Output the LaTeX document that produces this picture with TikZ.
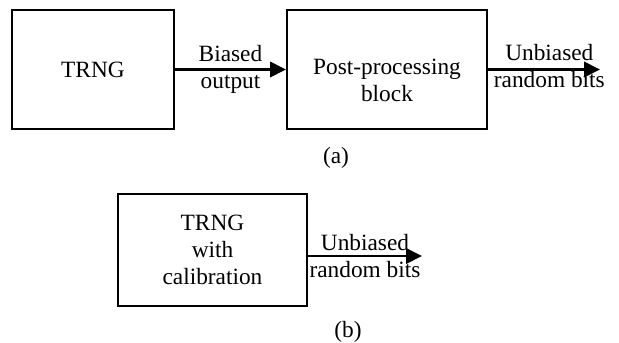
\documentclass[tikz,border=0pt]{standalone}
\usepackage{fontspec}
\setmainfont{Liberation Serif}
\usepackage{tikz}
\usetikzlibrary{arrows,arrows.meta,positioning}

\begin{document}
\begin{tikzpicture}[x=0.75pt,y=-0.75pt,
	every node/.style={font=\fontsize{17.5pt}{20.5pt}\selectfont},
	block/.style={draw,line width=1.5pt,align=center,inner sep=0pt},
	lbl/.style={align=center,inner sep=0pt},
	flow/.style={line width=2pt,-{Triangle[length=12pt,width=11.5pt]}}]
	\useasboundingbox (0,0) rectangle (619,343);
	\node[block,minimum width=121.5pt,minimum height=89.25pt] (trng) at (93,69.5) {TRNG};
	\node[block,minimum width=150pt,minimum height=89.25pt] (post_proc) at (387,69.5) {};
	\node[lbl] (post_proc_text) at (387,80.5) {Post-processing\\block};
	\coordinate (out_a) at (600,69.5);
	\draw[flow] (trng) -- node[lbl] (biased) {Biased\\output} (post_proc);
	\draw[flow] (post_proc) -- node[lbl,xshift=4pt,yshift=2.5pt] (unbiased_a) {Unbiased\\random bits} (out_a);
	\node (cap_a) at (336,158) {(a)};
	\node[block,minimum width=141.75pt,minimum height=84pt] (trng_cal) at (212.5,250) {TRNG\\with\\calibration};
	\coordinate (out_b) at (422,256);
	\draw[flow] (trng_cal.east |- out_b) -- node[lbl] (unbiased_b) {Unbiased\\random bits} (out_b);
	\node (cap_b) at (348,332) {(b)};
\end{tikzpicture}
\end{document}
